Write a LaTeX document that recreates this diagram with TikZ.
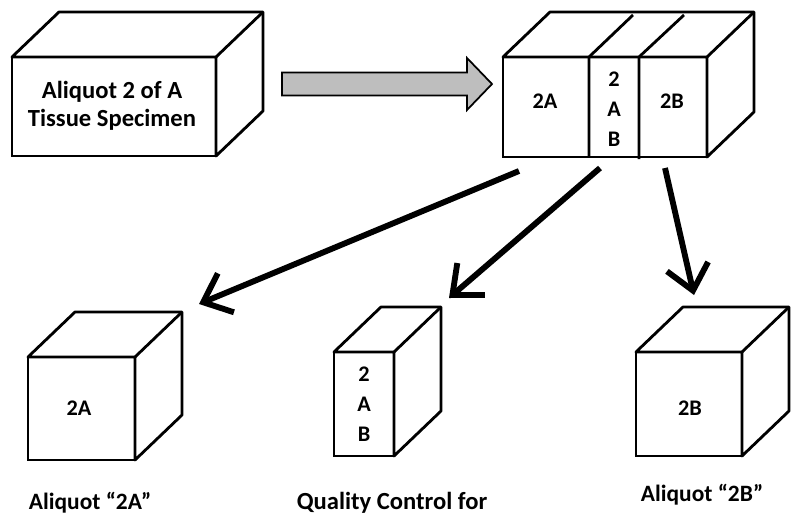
\documentclass[tikz,border=0pt]{standalone}
\usepackage{fontspec}
\setmainfont{Carlito}
\usetikzlibrary{arrows.meta,calc}
\definecolor{shaftgray}{RGB}{190,190,190}

\begin{document}
\begin{tikzpicture}[x=0.03cm, y=-0.03cm,
  front/.style={draw, line width=2.4pt, fill=white, inner sep=0pt, outer sep=0pt},
  face/.style={draw, line width=2.4pt, fill=white, line join=round},
  lbl/.style={font=\bfseries\fontsize{19}{25.5}\selectfont, align=center},
  caption/.style={font=\bfseries\fontsize{20}{24}\selectfont, align=center},
  split/.style={line width=5pt, -{Straight Barb[length=21pt, width=36pt]}}]
\useasboundingbox (0,0) rectangle (800,526);

% front faces
\node (whole) at (114,106.5) [front, minimum width=6.12cm, minimum height=2.97cm] {};
\node (cut) at (605,107) [front, minimum width=6.12cm, minimum height=3cm] {};
\node (boxa) at (81.5,408.5) [front, minimum width=3.21cm, minimum height=3.09cm] {};
\node (qc) at (364,404) [front, minimum width=1.8cm, minimum height=3.12cm] {};
\node (boxb) at (689,404) [front, minimum width=3.18cm, minimum height=3.12cm] {};

% top and side faces
\foreach \b in {whole,cut,boxa,qc,boxb} {
  \draw[face] (\b.north west) -- ++(47,-45) -- ($(\b.north east)+(47,-45)$)
    -- ($(\b.south east)+(47,-45)$) -- (\b.south east) -- (\b.north east) -- cycle;
  \draw[face] (\b.north east) -- ++(47,-45);
}

% slices of the cut specimen
\draw[face] (589,57) -- (589,157) (589,57) -- ++(44,-42);
\draw[face] (639,57) -- (639,159) (639,57) -- ++(45,-42);

% texts
\node (wholetxt) at (112,106) [caption, font=\bfseries\fontsize{21}{24}\selectfont] {Aliquot 2 of A\\Tissue Specimen};
\node (cuta) at (545,101) [lbl] {2A};
\node (cutab) at (614,109) [lbl] {2\\A\\B};
\node (cutb) at (672,101) [lbl] {2B};
\node (boxatxt) at (79,408) [lbl] {2A};
\node (qctxt) at (qc.center) [lbl] {2\\A\\B};
\node (boxbtxt) at (690,408) [lbl] {2B};
\node (capa) at (90,503) [caption] {Aliquot “2A”};
\node (capqc) at (392,503) [caption, font=\bfseries\fontsize{21}{24}\selectfont] {Quality Control for};
\node (capb) at (702,495) [caption] {Aliquot “2B”};

% grey arrow
\filldraw[fill=shaftgray, line width=1.5pt, line join=miter]
  (282,72.5) -- (467,72.5) -- (467,58) -- (492,84) -- (467,110) -- (467,95.5) -- (282,95.5) -- cycle;

% split arrows
\coordinate (s1) at (519,171);
\coordinate (t1) at (199,304);
\coordinate (s2) at (600,168);
\coordinate (t2) at (449,298);
\coordinate (s3) at (665,168);
\coordinate (t3) at (694,295);
\draw[split] (s1) -- (t1);
\draw[split] (s2) -- (t2);
\draw[split] (s3) -- (t3);
\end{tikzpicture}
\end{document}
